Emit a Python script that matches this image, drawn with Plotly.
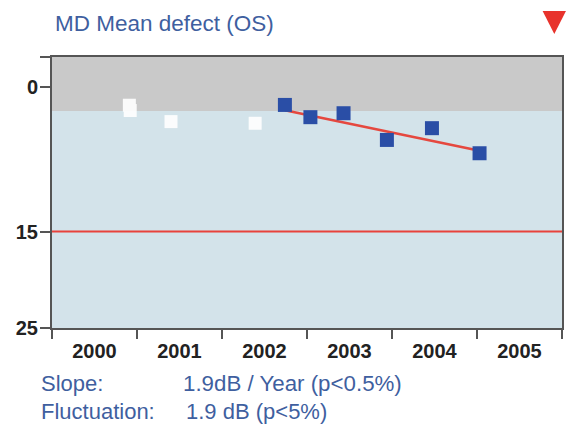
import plotly.graph_objects as go

# ---- data ----
years = [2000, 2001, 2002, 2003, 2004, 2005]
year_labels = ["2000", "2001", "2002", "2003", "2004", "2005"]
excluded_x = [2000.91, 2000.92, 2001.40, 2002.39]
excluded_md = [1.90, 2.45, 3.60, 3.77]
included_x = [2002.74, 2003.04, 2003.43, 2003.94, 2004.47, 2005.03]
included_md = [1.87, 3.14, 2.73, 5.50, 4.28, 6.88]
trend_x = [2002.74, 2005.03]
trend_md = [2.43, 6.63]
y_ticks = [0, 15, 25]
normal_limit = 2.5
alarm_level = 15
y_top = -3.1
y_bottom = 25

AX = "#555555"
TXT = "#3f5f9f"
FONT = "Liberation Sans, Arial, sans-serif"

fig = go.Figure()

fig.add_trace(go.Scatter(
    x=excluded_x, y=excluded_md, mode="markers",
    marker=dict(symbol="square", size=13, color="white", line=dict(width=0)),
    opacity=0.92, hoverinfo="skip", showlegend=False))

fig.add_trace(go.Scatter(
    x=trend_x, y=trend_md, mode="lines",
    line=dict(color="#e5483f", width=2.6), showlegend=False))

fig.add_trace(go.Scatter(
    x=included_x, y=included_md, mode="markers",
    marker=dict(symbol="square", size=14, color="#2a4ea6", line=dict(width=0)),
    showlegend=False))

# background bands
fig.add_shape(type="rect", xref="paper", yref="y", x0=0, x1=1,
              y0=y_top, y1=normal_limit, fillcolor="#c9c9c9",
              line=dict(width=0), layer="below")
fig.add_shape(type="rect", xref="paper", yref="y", x0=0, x1=1,
              y0=normal_limit, y1=y_bottom, fillcolor="#d3e3ea",
              line=dict(width=0), layer="below")
# alarm line
fig.add_shape(type="line", xref="paper", yref="y", x0=0, x1=1,
              y0=alarm_level, y1=alarm_level,
              line=dict(color="#e8433b", width=2))

# red warning triangle (top right)
fig.add_shape(type="path", xref="paper", yref="paper",
              path="M 0.962,1.1696 L 1.0078,1.1696 L 0.9849,1.0848 Z",
              fillcolor="#e8332c", line=dict(width=0))

fig.add_annotation(text="MD Mean defect (OS)", xref="paper", yref="paper",
                   x=0.002, y=1.122, xanchor="left", yanchor="middle",
                   showarrow=False, font=dict(family=FONT, size=22.5, color=TXT))
fig.add_annotation(text="Slope:", xref="paper", yref="paper",
                   x=-0.026, y=-0.203, xanchor="left", yanchor="middle",
                   showarrow=False, font=dict(family=FONT, size=22, color=TXT))
fig.add_annotation(text="1.9dB / Year (p<0.5%)", xref="paper", yref="paper",
                   x=0.252, y=-0.203, xanchor="left", yanchor="middle",
                   showarrow=False, font=dict(family=FONT, size=22.3, color=TXT))
fig.add_annotation(text="Fluctuation:", xref="paper", yref="paper",
                   x=-0.026, y=-0.308, xanchor="left", yanchor="middle",
                   showarrow=False, font=dict(family=FONT, size=22, color=TXT))
fig.add_annotation(text="1.9 dB (p<5%)", xref="paper", yref="paper",
                   x=0.258, y=-0.308, xanchor="left", yanchor="middle",
                   showarrow=False, font=dict(family=FONT, size=22, color=TXT))

centers = [y + 0.5 for y in years]
bounds = years + [years[-1] + 1]

fig.update_xaxes(
    range=[bounds[0], bounds[-1]], tickvals=centers, ticktext=year_labels,
    ticks="", showgrid=False, zeroline=False,
    showline=True, linecolor=AX, linewidth=2, mirror=True,
    tickfont=dict(family=FONT, size=20, color="#222222", weight="bold"),
    ticklabelstandoff=4,
    minor=dict(tickvals=bounds, ticks="outside", ticklen=9, tickwidth=2,
               tickcolor=AX, showgrid=False),
)
fig.update_yaxes(
    range=[y_bottom, y_top], tickvals=[y_top] + y_ticks,
    ticktext=[""] + [str(v) for v in y_ticks],
    ticks="outside", ticklen=10, tickwidth=2, tickcolor=AX,
    showgrid=False, zeroline=False,
    showline=True, linecolor=AX, linewidth=2, mirror=True,
    tickfont=dict(family=FONT, size=20, color="#222222", weight="bold"),
    ticklabelstandoff=-2,
)

fig.update_layout(
    width=574, height=429,
    margin=dict(l=52, r=10, t=57, b=101),
    paper_bgcolor="white", plot_bgcolor="#d3e3ea",
    showlegend=False,
)

fig.write_html("out.html", config={"displayModeBar": False},
               post_script="document.body.style.margin='0';document.body.style.overflow='hidden';")
